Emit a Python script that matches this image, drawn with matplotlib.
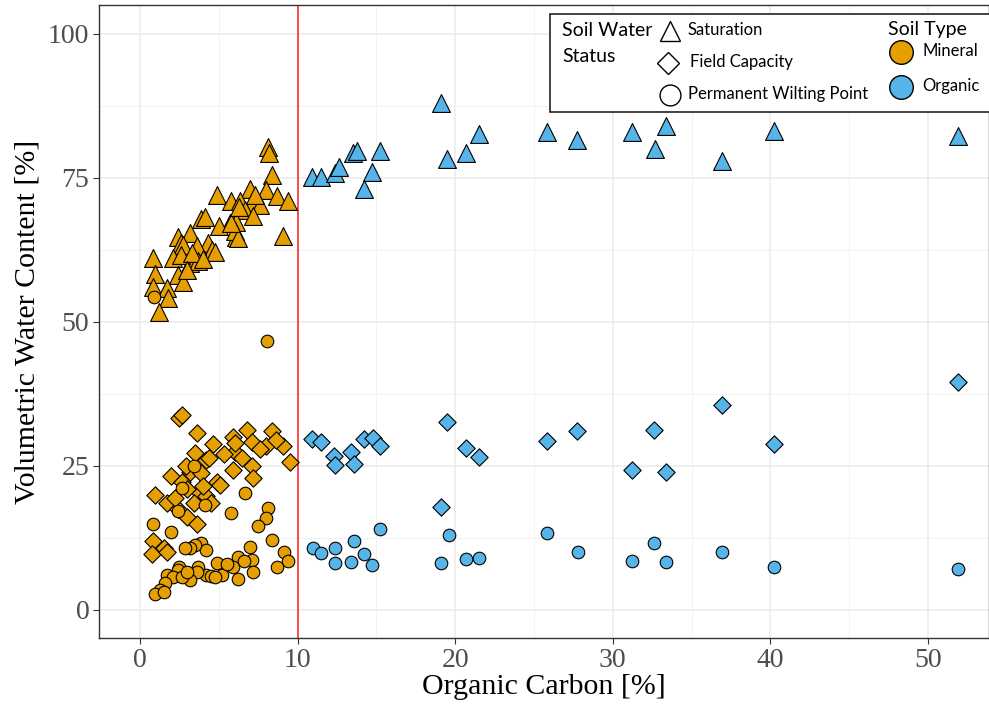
import matplotlib
matplotlib.use("Agg")
import matplotlib.pyplot as plt
from matplotlib.patches import Rectangle
from matplotlib.lines import Line2D
from matplotlib.ticker import MultipleLocator

# ---------------- data ----------------
# Organic soils (organic carbon > 10 %)
org_sat_x = [19.1, 21.5, 25.8, 27.7, 19.5, 20.7, 13.5, 13.75, 15.2, 14.7, 14.2,
             10.9, 11.5, 12.4, 12.6, 31.2, 33.4, 32.7, 36.9, 40.2, 51.9]
org_sat_y = [88.0, 82.6, 82.9, 81.6, 78.2, 79.3, 79.3, 79.6, 79.6, 76.0, 73.0,
             75.1, 75.2, 75.8, 76.9, 83.0, 84.0, 80.0, 78.0, 83.2, 82.3]

org_fc_x = [19.5, 10.9, 11.5, 12.3, 12.4, 13.4, 13.6, 14.2, 14.8, 15.2, 20.7,
            21.5, 25.8, 27.7, 19.1, 31.2, 32.6, 33.4, 36.9, 40.2, 51.9]
org_fc_y = [32.6, 29.7, 29.2, 26.7, 25.2, 27.5, 25.3, 29.6, 29.9, 28.5, 28.1,
            26.5, 29.3, 31.1, 17.8, 24.3, 31.25, 23.9, 35.5, 28.8, 39.5]

org_pwp_x = [11.0, 11.5, 12.4, 12.4, 13.6, 13.4, 14.2, 14.7, 15.2, 19.6, 19.1,
             20.7, 21.5, 25.8, 27.8, 31.2, 32.6, 33.4, 36.9, 40.2, 51.9]
org_pwp_y = [10.8, 9.95, 10.8, 8.1, 12.0, 8.3, 9.7, 7.8, 14.1, 13.0, 8.1,
             8.8, 9.1, 13.3, 10.0, 8.5, 11.6, 8.3, 10.0, 7.5, 7.2]

# Mineral soils
min_sat_x = [8.1, 8.2, 8.4, 4.9, 7.0, 8.0, 8.7, 9.4, 5.8, 6.35, 7.1, 7.6, 6.65,
             7.2, 9.1, 6.1, 5.7, 6.1, 5.0, 3.9, 4.1, 3.2, 2.4, 2.6, 4.3, 4.6,
             2.75, 3.6, 4.75, 2.1, 0.85, 3.2, 3.7, 2.4, 0.95, 2.75, 0.85, 1.7,
             1.8, 1.2, 6.0, 6.2, 5.8, 2.6, 3.3, 4.0, 3.0, 6.3, 7.3]
min_sat_y = [80.4, 79.3, 75.5, 72.0, 73.0, 72.9, 71.8, 70.9, 70.9, 70.9, 70.6,
             70.3, 69.4, 68.3, 64.9, 67.4, 67.1, 64.8, 66.6, 67.8, 68.2, 65.4,
             64.8, 63.7, 63.7, 62.5, 63.4, 63.1, 62.2, 61.1, 61.1, 60.2, 60.5,
             58.2, 58.3, 56.9, 56.0, 55.8, 54.1, 51.8, 65.7, 64.5, 67.1, 61.6,
             62.0, 61.0, 59.0, 70.0, 72.0]

min_fc_x = [2.45, 2.65, 3.6, 4.65, 5.9, 6.8, 8.35, 8.0, 7.1, 9.1, 9.5, 8.6, 6.0,
            6.45, 7.1, 5.9, 7.2, 3.5, 4.2, 4.4, 3.2, 2.0, 2.65, 3.9, 4.9, 5.1,
            3.8, 0.95, 1.7, 2.4, 3.4, 4.2, 3.0, 4.5, 0.85, 1.55, 0.75, 1.7,
            6.0, 7.6, 3.0, 4.0, 2.2, 3.6, 5.3, 2.9]
min_fc_y = [33.3, 33.9, 30.7, 28.8, 30.0, 31.25, 31.0, 28.4, 29.1, 28.4, 25.75,
            29.5, 27.5, 26.3, 25.0, 24.3, 22.9, 27.2, 26.0, 26.4, 24.0, 23.2,
            22.3, 23.7, 22.3, 21.7, 20.3, 20.0, 18.5, 17.6, 18.5, 19.7, 16.2,
            18.5, 11.9, 10.8, 9.8, 10.1, 29.0, 28.0, 21.0, 21.5, 19.5, 15.0,
            27.0, 25.0]

min_pwp_x = [8.06, 0.9, 3.45, 2.65, 6.65, 4.1, 5.8, 8.1, 8.0, 2.4, 0.85, 7.5,
             2.0, 8.35, 9.15, 9.4, 8.7, 7.0, 7.1, 7.2, 6.2, 5.9, 6.2, 4.9, 4.2,
             4.5, 3.9, 4.2, 3.5, 3.2, 2.85, 3.7, 3.6, 3.2, 2.45, 2.4, 1.7, 2.1,
             2.65, 1.6, 1.27, 0.95, 1.55, 5.2, 4.75, 3.0, 5.5, 6.6]
min_pwp_y = [46.7, 54.4, 25.05, 21.1, 20.3, 18.2, 16.8, 17.7, 15.9, 17.1, 14.9,
             14.6, 13.6, 12.15, 10.1, 8.5, 7.5, 10.9, 8.7, 6.65, 9.25, 7.5, 5.3,
             8.1, 6.1, 5.9, 11.6, 10.4, 11.3, 10.8, 10.8, 7.5, 6.65, 5.2, 7.5,
             7.0, 6.1, 5.8, 5.8, 4.6, 3.5, 2.7, 3.2, 6.1, 5.8, 6.65, 8.0, 8.5]

threshold = 10
x_ticks = [0, 10, 20, 30, 40, 50]
y_ticks = [0, 25, 50, 75, 100]

MINERAL = "#E69F00"
ORGANIC = "#56B4E9"

# ---------------- figure ----------------
W, H = 989, 713
fig = plt.figure(figsize=(W / 100, H / 100), dpi=100)
ax = fig.add_axes([99 / W, 1 - 638 / H, (W - 99) / W, (638 - 5) / H])

ax.set_xlim(-2.6, 53.87)
ax.set_ylim(-4.86, 105.0)

ax.set_xticks(x_ticks)
ax.set_yticks(y_ticks)
ax.xaxis.set_minor_locator(MultipleLocator(5))
ax.yaxis.set_minor_locator(MultipleLocator(12.5))
ax.grid(True, which="major", color="#EBEBEB", lw=1.1, zorder=0)
ax.grid(True, which="minor", color="#F2F2F2", lw=0.7, zorder=0)
ax.tick_params(which="minor", length=0)
ax.tick_params(which="major", length=4, width=0.8, color="#333333",
               labelcolor="#4D4D4D", labelsize=20, pad=3)
for lab in ax.get_xticklabels() + ax.get_yticklabels():
    lab.set_family("Liberation Serif")
for sp in ax.spines.values():
    sp.set_color("#333333")
    sp.set_linewidth(1.0)
ax.set_axisbelow(True)

ax.set_xlabel("Organic Carbon [%]", family="Liberation Serif", fontsize=21.5, labelpad=1)
ax.set_ylabel("Volumetric Water Content [%]", family="Liberation Serif", fontsize=21.5, labelpad=5)

ax.axvline(threshold, color="#FF2020", lw=1.1, zorder=1)

kw = dict(edgecolors="black", linewidths=0.8, zorder=3)
ax.scatter(min_sat_x, min_sat_y, marker="^", s=165, c=MINERAL, **kw)
ax.scatter(org_sat_x, org_sat_y, marker="^", s=165, c=ORGANIC, **kw)
ax.scatter(min_fc_x, min_fc_y, marker="D", s=78, c=MINERAL, **kw)
ax.scatter(org_fc_x, org_fc_y, marker="D", s=78, c=ORGANIC, **kw)
ax.scatter(min_pwp_x, min_pwp_y, marker="o", s=82, c=MINERAL, **kw)
ax.scatter(org_pwp_x, org_pwp_y, marker="o", s=82, c=ORGANIC, **kw)

# ---------------- legend (drawn in pixel space) ----------------
def fx(px):
    return px / W

def fy(py):
    return 1 - py / H

box = Rectangle((fx(550), fy(112)), fx(1000) - fx(550), fy(14) - fy(112),
                transform=fig.transFigure, facecolor="white", edgecolor="#222222",
                lw=1.2, zorder=10)
fig.add_artist(box)

LFONT = "Lato"
fig.text(fx(562), fy(30), "Soil Water", family=LFONT, fontsize=14, va="center", ha="left", zorder=11)
fig.text(fx(562), fy(56), "Status", family=LFONT, fontsize=14, va="center", ha="left", zorder=11)
fig.text(fx(888), fy(30), "Soil Type", family=LFONT, fontsize=14, va="center", ha="left", zorder=11)

entries = [
    (670, 31, "^", 14, "white", "Saturation", 688),
    (668, 63, "D", 11, "white", "Field Capacity", 690),
    (670, 95, "o", 15, "white", "Permanent Wilting Point", 688),
    (901, 52, "o", 17, MINERAL, "Mineral", 922),
    (901, 87, "o", 17, ORGANIC, "Organic", 922),
]
for mx, my, mk, ms, fc, label, tx in entries:
    fig.add_artist(Line2D([fx(mx)], [fy(my)], marker=mk, markersize=ms,
                          markerfacecolor=fc, markeredgecolor="black",
                          markeredgewidth=1.0, linestyle="none",
                          transform=fig.transFigure, zorder=11))
    fig.text(fx(tx), fy(my - 1), label, family=LFONT, fontsize=12,
             va="center", ha="left", zorder=11)

fig.savefig("out.png", dpi=100)
